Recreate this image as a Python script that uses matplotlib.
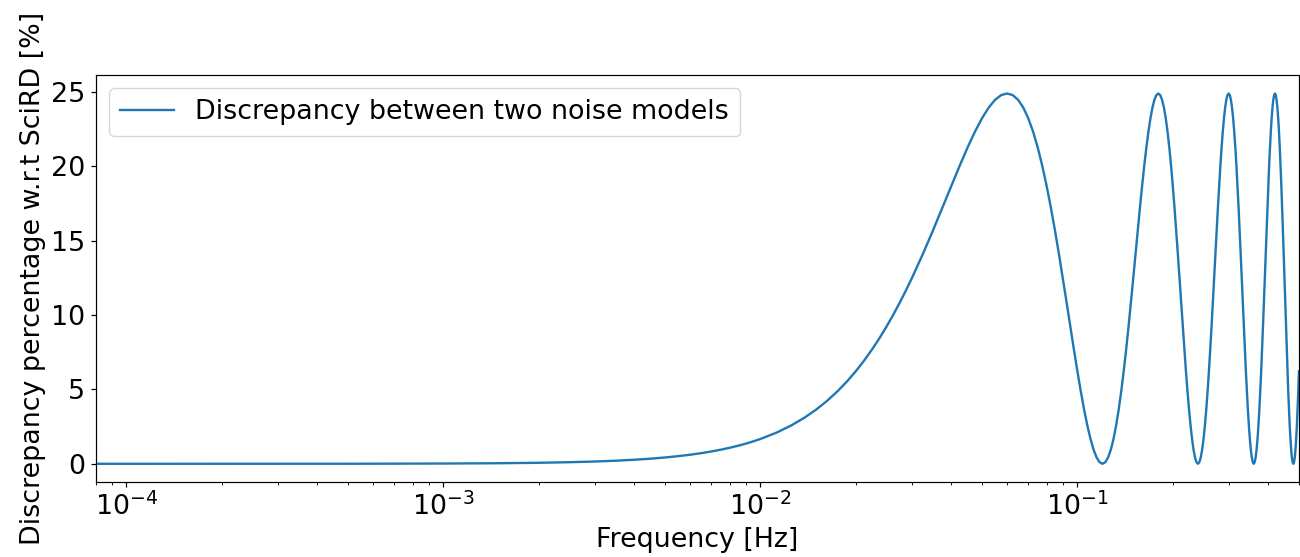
import matplotlib
matplotlib.use("Agg")
import matplotlib.pyplot as plt
import numpy as np

plt.rcParams.update({
    'font.size': 19.4,
    'axes.labelsize': 19.4,
    'xtick.labelsize': 19.4,
    'ytick.labelsize': 19.4,
    'legend.fontsize': 19.4,
    'axes.linewidth': 0.86,
    'xtick.major.size': 3.8,
    'ytick.major.size': 3.8,
    'xtick.minor.size': 2.2,
    'xtick.major.width': 0.86,
    'ytick.major.width': 0.86,
    'xtick.minor.width': 0.65,
})

# Low-frequency band: discrepancy is essentially zero
freq_low = [8e-5, 1e-4, 2e-4, 5e-4, 1e-3, 1.5e-3, 2e-3, 2.5e-3, 3e-3, 3.5e-3,
            4e-3, 4.5e-3, 5e-3, 5.5e-3, 6e-3, 6.5e-3, 7e-3, 7.5e-3, 8e-3, 8.5e-3,
            9e-3, 9.5e-3]
disc_low = [0.0, 0.0, 0.001, 0.004, 0.017, 0.038, 0.068, 0.107, 0.153, 0.208,
            0.272, 0.344, 0.424, 0.513, 0.609, 0.714, 0.827, 0.948, 1.076, 1.213,
            1.357, 1.509]

# Main lobe rising up to the first maximum near 60 mHz
freq_lobe = [0.01, 0.01125, 0.0125, 0.01375, 0.015, 0.01625, 0.0175, 0.01875,
             0.02, 0.02125, 0.0225, 0.02375, 0.025, 0.02625, 0.0275, 0.02875,
             0.03, 0.0325, 0.035, 0.0375, 0.04, 0.0425, 0.045, 0.0475,
             0.05, 0.0525, 0.055, 0.0575, 0.06]
disc_lobe = [1.668, 2.098, 2.573, 3.090, 3.647, 4.241, 4.871, 5.533,
             6.225, 6.944, 7.686, 8.448, 9.228, 10.021, 10.825, 11.636,
             12.45, 14.075, 15.672, 17.214, 18.675, 20.029, 21.253, 22.327,
             23.232, 23.952, 24.476, 24.793, 24.9]

# High-frequency ripple (nulls at 0.12, 0.24, 0.36, 0.48 Hz)
freq_ripple = [
    0.0625, 0.065, 0.0675, 0.07, 0.0725, 0.075, 0.0775, 0.08,
    0.0825, 0.085, 0.0875, 0.09, 0.0925, 0.095, 0.0975, 0.1,
    0.1025, 0.105, 0.1075, 0.11, 0.1125, 0.115, 0.1175, 0.12,
    0.1225, 0.125, 0.1275, 0.13, 0.1325, 0.135, 0.1375, 0.14,
    0.1425, 0.145, 0.1475, 0.15, 0.1525, 0.155, 0.1575, 0.16,
    0.1625, 0.165, 0.1675, 0.17, 0.1725, 0.175, 0.1775, 0.18,
    0.1825, 0.185, 0.1875, 0.19, 0.1925, 0.195, 0.1975, 0.2,
    0.2025, 0.205, 0.2075, 0.21, 0.2125, 0.215, 0.2175, 0.22,
    0.2225, 0.225, 0.2275, 0.23, 0.2325, 0.235, 0.2375, 0.24,
    0.2425, 0.245, 0.2475, 0.25, 0.2525, 0.255, 0.2575, 0.26,
    0.2625, 0.265, 0.2675, 0.27, 0.2725, 0.275, 0.2775, 0.28,
    0.2825, 0.285, 0.2875, 0.29, 0.2925, 0.295, 0.2975, 0.3,
    0.3025, 0.305, 0.3075, 0.31, 0.3125, 0.315, 0.3175, 0.32,
    0.3225, 0.325, 0.3275, 0.33, 0.3325, 0.335, 0.3375, 0.34,
    0.3425, 0.345, 0.3475, 0.35, 0.3525, 0.355, 0.3575, 0.36,
    0.3625, 0.365, 0.3675, 0.37, 0.3725, 0.375, 0.3775, 0.38,
    0.3825, 0.385, 0.3875, 0.39, 0.3925, 0.395, 0.3975, 0.4,
    0.4025, 0.405, 0.4075, 0.41, 0.4125, 0.415, 0.4175, 0.42,
    0.4225, 0.425, 0.4275, 0.43, 0.4325, 0.435, 0.4375, 0.44,
    0.4425, 0.445, 0.4475, 0.45, 0.4525, 0.455, 0.4575, 0.46,
    0.4625, 0.465, 0.4675, 0.47, 0.4725, 0.475, 0.4775, 0.48,
    0.4825, 0.485, 0.4875, 0.49, 0.4925, 0.495, 0.4975, 0.5,
]
disc_ripple = [
    24.793, 24.476, 23.952, 23.232, 22.327, 21.253, 20.029, 18.675,
    17.214, 15.672, 14.075, 12.45, 10.825, 9.228, 7.686, 6.225,
    4.871, 3.647, 2.573, 1.668, 0.948, 0.424, 0.107, 0.0,
    0.107, 0.424, 0.948, 1.668, 2.573, 3.647, 4.871, 6.225,
    7.686, 9.228, 10.825, 12.45, 14.075, 15.672, 17.214, 18.675,
    20.029, 21.253, 22.327, 23.232, 23.952, 24.476, 24.793, 24.9,
    24.793, 24.476, 23.952, 23.232, 22.327, 21.253, 20.029, 18.675,
    17.214, 15.672, 14.075, 12.45, 10.825, 9.228, 7.686, 6.225,
    4.871, 3.647, 2.573, 1.668, 0.948, 0.424, 0.107, 0.0,
    0.107, 0.424, 0.948, 1.668, 2.573, 3.647, 4.871, 6.225,
    7.686, 9.228, 10.825, 12.45, 14.075, 15.672, 17.214, 18.675,
    20.029, 21.253, 22.327, 23.232, 23.952, 24.476, 24.793, 24.9,
    24.793, 24.476, 23.952, 23.232, 22.327, 21.253, 20.029, 18.675,
    17.214, 15.672, 14.075, 12.45, 10.825, 9.228, 7.686, 6.225,
    4.871, 3.647, 2.573, 1.668, 0.948, 0.424, 0.107, 0.0,
    0.107, 0.424, 0.948, 1.668, 2.573, 3.647, 4.871, 6.225,
    7.686, 9.228, 10.825, 12.45, 14.075, 15.672, 17.214, 18.675,
    20.029, 21.253, 22.327, 23.232, 23.952, 24.476, 24.793, 24.9,
    24.793, 24.476, 23.952, 23.232, 22.327, 21.253, 20.029, 18.675,
    17.214, 15.672, 14.075, 12.45, 10.825, 9.228, 7.686, 6.225,
    4.871, 3.647, 2.573, 1.668, 0.948, 0.424, 0.107, 0.0,
    0.107, 0.424, 0.948, 1.668, 2.573, 3.647, 4.871, 6.225,
]

freq = np.array(freq_low + freq_lobe + freq_ripple)
disc = np.array(disc_low + disc_lobe + disc_ripple)

fig = plt.figure(figsize=(13, 5.57), dpi=100)
fig.subplots_adjust(left=0.0736, right=0.9992, top=0.8654, bottom=0.1341)
ax = fig.add_subplot(111)

ax.plot(freq, disc, color='#1f77b4', lw=1.7, label='Discrepancy between two noise models')
ax.set_xscale('log')
ax.set_xlim(8e-5, 0.5)
ax.set_xlabel('Frequency [Hz]')
ax.set_ylabel('Discrepancy percentage w.r.t SciRD [%]')
ax.set_yticks([0, 5, 10, 15, 20, 25])
ax.legend(loc='upper left')

fig.savefig('out.png', dpi=100)
